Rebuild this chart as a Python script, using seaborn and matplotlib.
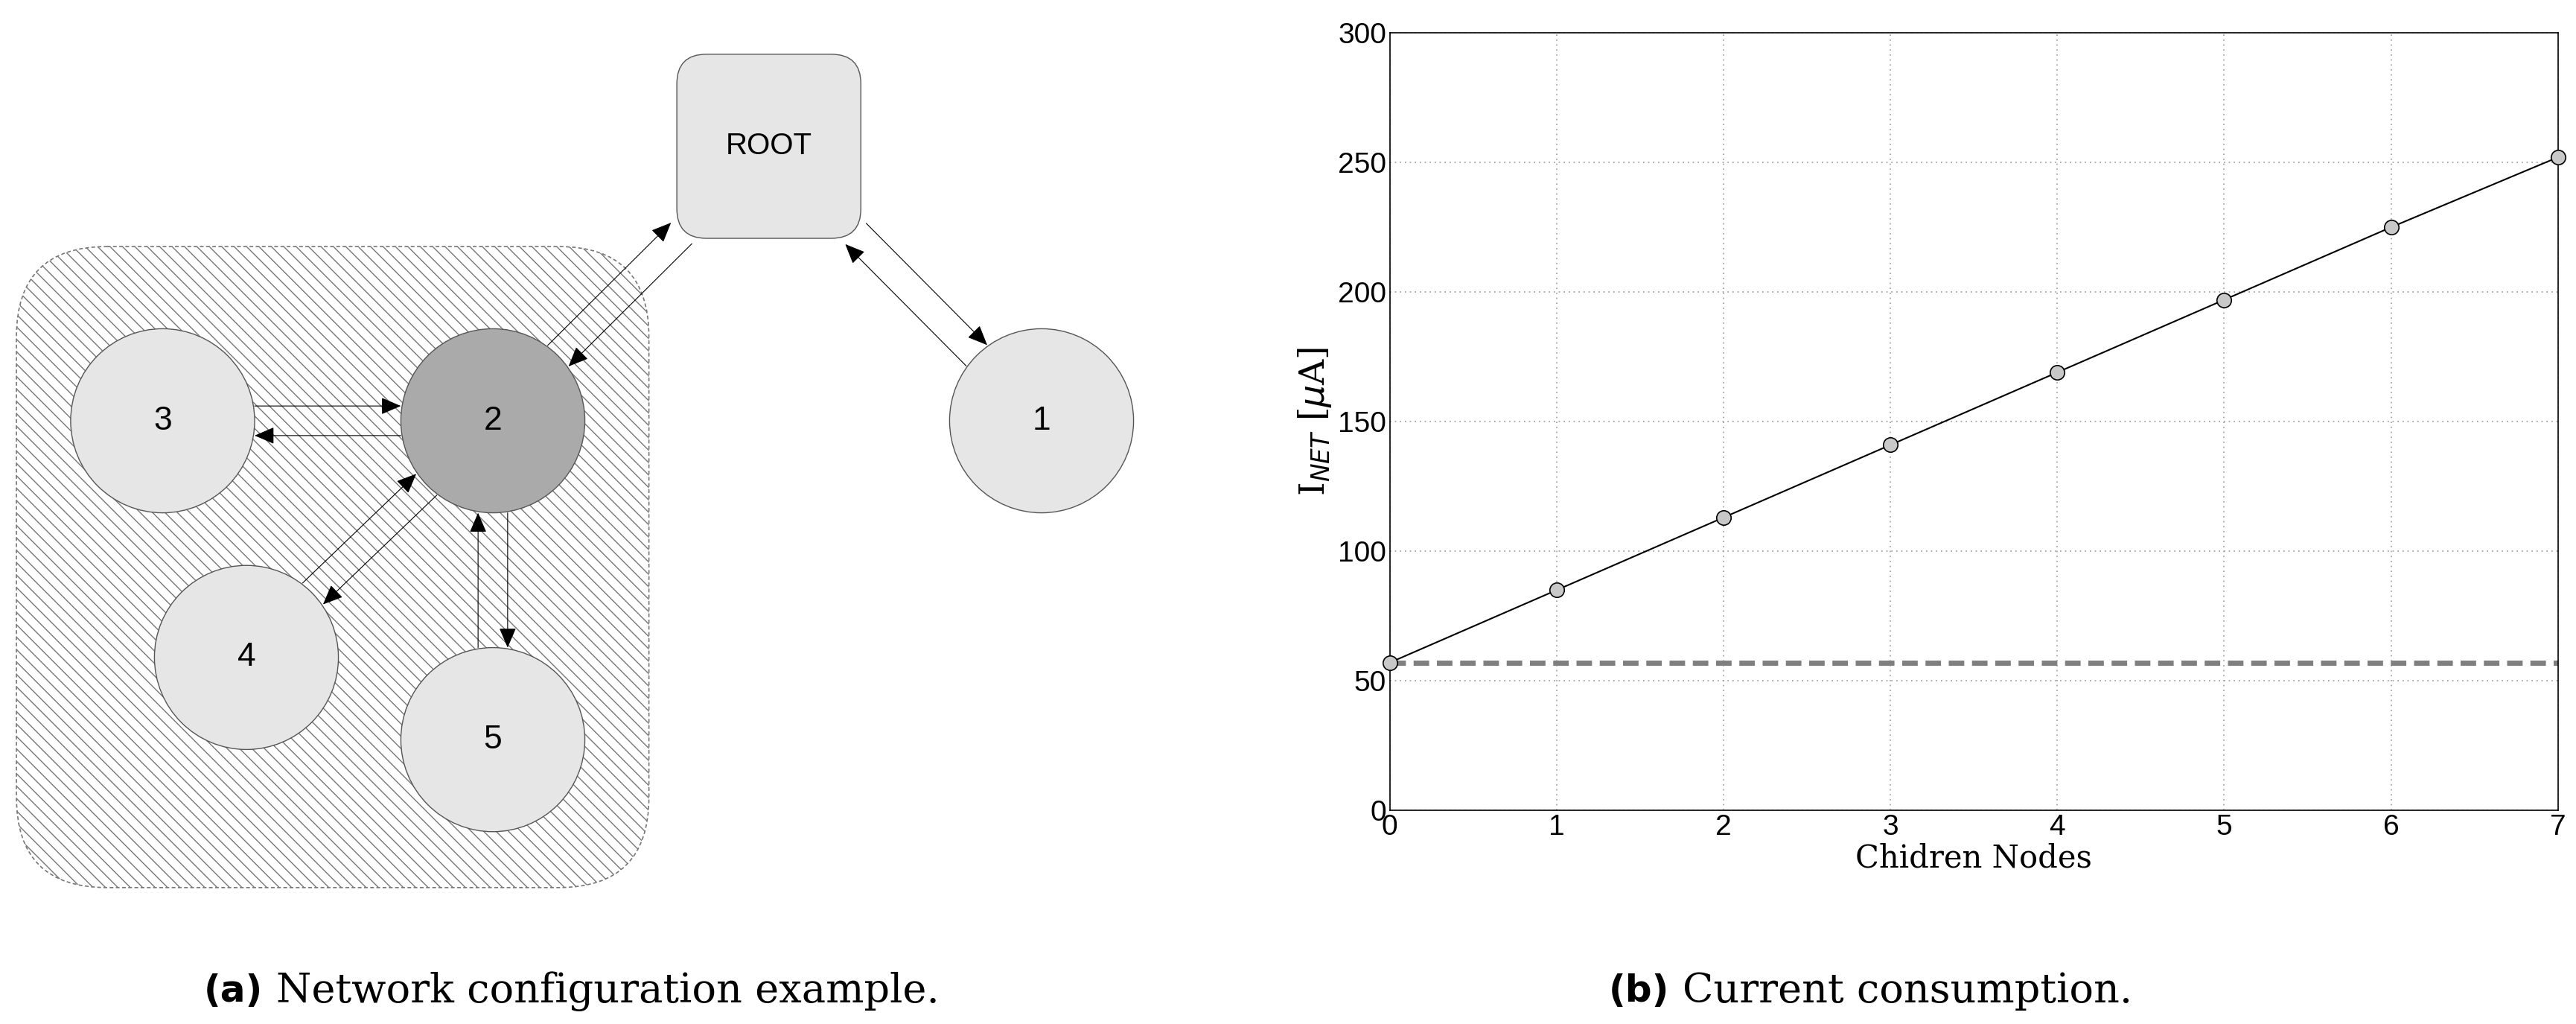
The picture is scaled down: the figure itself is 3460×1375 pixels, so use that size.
import numpy as np
import pandas as pd
import matplotlib
matplotlib.use("Agg")
import matplotlib.pyplot as plt
import seaborn as sns
from matplotlib.patches import Circle, FancyBboxPatch

# data
children = [0, 1, 2, 3, 4, 5, 6, 7]
i_net = [57, 85, 113, 141, 169, 197, 225, 252]
baseline = 57

# network diagram nodes (label, x, y in reference pixel space, fill)
node_names = ["3", "2", "1", "4", "5"]
node_x = [99, 300, 634, 150, 300]
node_y = [256, 256, 256, 400, 450]
node_fill = ["#e6e6e6", "#aaaaaa", "#e6e6e6", "#e6e6e6", "#e6e6e6"]
links = [("3", "2"), ("2", "ROOT"), ("ROOT", "1"), ("2", "4"), ("2", "5")]

sns.set_theme(style="white")
plt.rcParams["hatch.color"] = "#dcdcdc"
plt.rcParams["hatch.linewidth"] = 1.0

W, H = 1568, 623
fig = plt.figure(figsize=(34.6, 13.75), dpi=100)

# ---- left: network diagram ----
axl = fig.add_axes([0, 0, 1, 1])
axl.set_xlim(0, W)
axl.set_ylim(H, 0)
axl.axis("off")

axl.add_patch(FancyBboxPatch((10 + 55, 150 + 55), 385 - 110, 390 - 110,
                             boxstyle="round,pad=55", fc="white", ec="#777777",
                             ls=(0, (3, 2)), lw=1.2, hatch="\\\\", zorder=1))
axl.add_patch(FancyBboxPatch((412 + 18, 33 + 18), 112 - 36, 112 - 36,
                             boxstyle="round,pad=18", fc="#e6e6e6", ec="#555555",
                             lw=1.0, zorder=3))
axl.text(468, 89, "ROOT", ha="center", va="center", fontsize=29,
         family="Liberation Sans", color="black", zorder=4)

pos = {"ROOT": (468, 89)}
R = 56
for name, x, y, c in zip(node_names, node_x, node_y, node_fill):
    pos[name] = (x, y)
    axl.add_patch(Circle((x, y), R, fc=c, ec="#555555", lw=1.0, zorder=3))
    axl.text(x, y, name, ha="center", va="center", fontsize=32,
             family="Liberation Sans", color="black", zorder=4)


def edge_point(name, d):
    x, y = pos[name]
    if name == "ROOT":
        t = 56 / max(abs(d[0]), abs(d[1]))
        return np.array([x, y]) + d * t * 0.95
    return np.array([x, y]) + d * R


arrow = dict(arrowstyle="-|>,head_length=1.4,head_width=0.6",
             color="black", lw=0.8, shrinkA=0, shrinkB=0)
for a, b in links:
    pa, pb = np.array(pos[a], float), np.array(pos[b], float)
    d = (pb - pa) / np.linalg.norm(pb - pa)
    n = np.array([-d[1], d[0]])
    off = 9
    s = edge_point(a, d) - n * off
    e = edge_point(b, -d) - n * off
    axl.annotate("", xy=e, xytext=s, arrowprops=arrow, zorder=5)
    s2 = edge_point(b, -d) + n * off
    e2 = edge_point(a, d) + n * off
    axl.annotate("", xy=e2, xytext=s2, arrowprops=arrow, zorder=5)

# captions
axl.text(160, 603, "(a)", ha="right", va="center", fontsize=36,
         fontweight="bold", family="DejaVu Sans", color="black")
axl.text(168, 603, "Network configuration example.", ha="left", va="center",
         fontsize=39, family="DejaVu Serif", color="black")
axl.text(1016, 603, "(b)", ha="right", va="center", fontsize=36,
         fontweight="bold", family="DejaVu Sans", color="black")
axl.text(1024, 603, "Current consumption.", ha="left", va="center",
         fontsize=39, family="DejaVu Serif", color="black")

# ---- right: current consumption ----
ax = fig.add_axes([846 / W, (H - 493) / H, 711 / W, 473 / H])
df = pd.DataFrame({"children": children, "i_net": i_net})
ax.axhline(baseline, color="#7f7f7f", lw=5, ls=(0, (3, 1.5)), zorder=2)
sns.lineplot(data=df, x="children", y="i_net", ax=ax, color="black", lw=1.5,
             marker="o", markersize=14, markerfacecolor="#c8c8c8",
             markeredgecolor="black", markeredgewidth=1.2, zorder=3, clip_on=False)
ax.set_xlim(0, 7)
ax.set_ylim(0, 300)
ax.set_xticks(range(8))
ax.set_yticks(range(0, 301, 50))
ax.grid(True, ls=(0, (1, 3)), color="#999999", lw=1.2)
for sp in ax.spines.values():
    sp.set_color("black")
    sp.set_linewidth(1.2)
ax.tick_params(labelsize=28, direction="in", length=6, color="black", labelcolor="black")
for lab in ax.get_xticklabels() + ax.get_yticklabels():
    lab.set_family("Liberation Sans")
ax.set_xlabel("Chidren Nodes", fontsize=30, family="DejaVu Serif", labelpad=2,
              color="black")
ax.set_ylabel(r"I$_{NET}$ [$\mu$A]", fontsize=34, family="DejaVu Serif", color="black")

fig.savefig("out.png", dpi=100)
